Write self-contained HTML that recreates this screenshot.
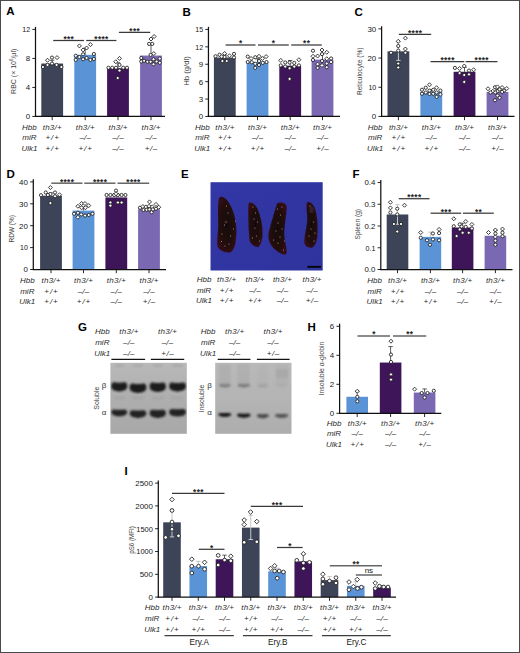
<!DOCTYPE html>
<html lang="en"><head><meta charset="utf-8"><title>Figure</title>
<style>
html,body{margin:0;padding:0;background:#fff}
svg{display:block;font-family:"Liberation Sans","DejaVu Sans",sans-serif}
.d{fill:#fff;stroke:#1a1a1a;stroke-width:0.85}
</style></head><body>
<svg width="520" height="653" viewBox="0 0 520 653">
<defs>
<filter id="blur" x="-10%" y="-10%" width="120%" height="120%"><feGaussianBlur stdDeviation="0.95"/></filter>
<filter id="blur2" x="-10%" y="-10%" width="120%" height="120%"><feGaussianBlur stdDeviation="0.5"/></filter>
<linearGradient id="gelbg1" x1="0" y1="0" x2="0" y2="1"><stop offset="0" stop-color="#b9b9b9"/><stop offset="0.45" stop-color="#afafaf"/><stop offset="1" stop-color="#a8a8a8"/></linearGradient>
<linearGradient id="gelbg2" x1="0" y1="0" x2="0" y2="1"><stop offset="0" stop-color="#b9b9b9"/><stop offset="0.5" stop-color="#b4b4b4"/><stop offset="1" stop-color="#adadad"/></linearGradient>
<clipPath id="clipg1"><rect x="110.4" y="362.8" width="76.4" height="71"/></clipPath>
<clipPath id="clipg2"><rect x="215.2" y="362.8" width="76.3" height="71"/></clipPath>
<radialGradient id="spl" cx="0.5" cy="0.5" r="0.6"><stop offset="0" stop-color="#16060a"/><stop offset="0.6" stop-color="#220a0e"/><stop offset="1" stop-color="#361018"/></radialGradient>
<linearGradient id="blue" x1="0" y1="0" x2="1" y2="1"><stop offset="0" stop-color="#3337a7"/><stop offset="1" stop-color="#2f339d"/></linearGradient>
</defs>
<rect x="0" y="0" width="520" height="653" fill="#fff"/>
<text x="6.30" y="15.40" font-size="11.5" text-anchor="start" fill="#000" font-weight="bold" >A</text>
<rect x="41.30" y="63.53" width="21.80" height="52.92" fill="#3d4457"/>
<rect x="74.30" y="54.83" width="21.80" height="61.62" fill="#5b94d6"/>
<rect x="107.10" y="68.24" width="21.80" height="48.21" fill="#3d1558"/>
<rect x="140.10" y="55.55" width="21.80" height="60.90" fill="#7a69b2"/>
<line x1="52.20" y1="63.53" x2="52.20" y2="60.26" stroke="#333" stroke-width="0.8" />
<line x1="50.00" y1="60.26" x2="54.40" y2="60.26" stroke="#333" stroke-width="0.8" />
<line x1="85.20" y1="54.83" x2="85.20" y2="48.30" stroke="#333" stroke-width="0.8" />
<line x1="83.00" y1="48.30" x2="87.40" y2="48.30" stroke="#333" stroke-width="0.8" />
<line x1="118.00" y1="68.24" x2="118.00" y2="62.80" stroke="#333" stroke-width="0.8" />
<line x1="115.80" y1="62.80" x2="120.20" y2="62.80" stroke="#333" stroke-width="0.8" />
<line x1="151.00" y1="55.55" x2="151.00" y2="44.67" stroke="#333" stroke-width="0.8" />
<line x1="148.80" y1="44.67" x2="153.20" y2="44.67" stroke="#333" stroke-width="0.8" />
<line x1="35.50" y1="26.85" x2="35.50" y2="117.05" stroke="#111" stroke-width="1.25" />
<line x1="34.90" y1="116.45" x2="165.00" y2="116.45" stroke="#111" stroke-width="1.25" />
<line x1="32.30" y1="116.45" x2="35.50" y2="116.45" stroke="#111" stroke-width="0.9" />
<text x="30.10" y="119.30" font-size="8" text-anchor="end" fill="#151515" textLength="4.4" lengthAdjust="spacingAndGlyphs">0</text>
<line x1="32.30" y1="87.45" x2="35.50" y2="87.45" stroke="#111" stroke-width="0.9" />
<text x="30.10" y="90.30" font-size="8" text-anchor="end" fill="#151515" textLength="4.4" lengthAdjust="spacingAndGlyphs">4</text>
<line x1="32.30" y1="58.45" x2="35.50" y2="58.45" stroke="#111" stroke-width="0.9" />
<text x="30.10" y="61.30" font-size="8" text-anchor="end" fill="#151515" textLength="4.4" lengthAdjust="spacingAndGlyphs">8</text>
<line x1="32.30" y1="29.45" x2="35.50" y2="29.45" stroke="#111" stroke-width="0.9" />
<text x="30.10" y="32.30" font-size="8" text-anchor="end" fill="#151515" textLength="7.8" lengthAdjust="spacingAndGlyphs">12</text>
<line x1="52.20" y1="116.45" x2="52.20" y2="120.15" stroke="#111" stroke-width="0.9" />
<line x1="85.20" y1="116.45" x2="85.20" y2="120.15" stroke="#111" stroke-width="0.9" />
<line x1="118.00" y1="116.45" x2="118.00" y2="120.15" stroke="#111" stroke-width="0.9" />
<line x1="151.00" y1="116.45" x2="151.00" y2="120.15" stroke="#111" stroke-width="0.9" />
<text transform="translate(16.00,71.30) rotate(-90)" font-size="8" text-anchor="middle" fill="#3e3e3e" textLength="45.2" lengthAdjust="spacingAndGlyphs">RBC (× 10<tspan dy="-3" font-size="5">6</tspan><tspan dy="3">/µl)</tspan></text>
<circle cx="42.90" cy="67.00" r="1.6" class="d"/>
<circle cx="47.50" cy="64.90" r="1.6" class="d"/>
<path d="M47.50 58.25L49.50 60.25L47.50 62.25L45.50 60.25Z" class="d"/>
<circle cx="52.00" cy="57.60" r="1.6" class="d"/>
<circle cx="52.00" cy="63.60" r="1.6" class="d"/>
<path d="M57.00 55.60L59.00 57.60L57.00 59.60L55.00 57.60Z" class="d"/>
<circle cx="56.60" cy="64.90" r="1.6" class="d"/>
<circle cx="61.40" cy="67.00" r="1.6" class="d"/>
<circle cx="75.75" cy="55.75" r="1.6" class="d"/>
<circle cx="75.75" cy="59.90" r="1.6" class="d"/>
<path d="M79.40 43.90L81.40 45.90L79.40 47.90L77.40 45.90Z" class="d"/>
<circle cx="79.40" cy="57.00" r="1.6" class="d"/>
<path d="M83.10 47.90L85.10 49.90L83.10 51.90L81.10 49.90Z" class="d"/>
<circle cx="83.10" cy="54.25" r="1.6" class="d"/>
<circle cx="83.10" cy="59.25" r="1.6" class="d"/>
<path d="M86.60 46.00L88.60 48.00L86.60 50.00L84.60 48.00Z" class="d"/>
<circle cx="86.60" cy="58.00" r="1.6" class="d"/>
<path d="M90.40 42.60L92.40 44.60L90.40 46.60L88.40 44.60Z" class="d"/>
<circle cx="90.40" cy="59.90" r="1.6" class="d"/>
<circle cx="93.90" cy="54.00" r="1.6" class="d"/>
<circle cx="93.90" cy="59.00" r="1.6" class="d"/>
<path d="M119.50 56.40L121.50 58.40L119.50 60.40L117.50 58.40Z" class="d"/>
<path d="M115.75 59.75L117.75 61.75L115.75 63.75L113.75 61.75Z" class="d"/>
<circle cx="119.50" cy="64.90" r="1.6" class="d"/>
<circle cx="108.50" cy="67.75" r="1.6" class="d"/>
<circle cx="112.25" cy="67.75" r="1.6" class="d"/>
<circle cx="116.00" cy="67.75" r="1.6" class="d"/>
<circle cx="123.25" cy="67.75" r="1.6" class="d"/>
<circle cx="127.00" cy="67.75" r="1.6" class="d"/>
<circle cx="119.50" cy="70.50" r="1.6" class="d"/>
<circle cx="117.70" cy="78.00" r="1.6" class="d"/>
<path d="M154.10 34.50L156.10 36.50L154.10 38.50L152.10 36.50Z" class="d"/>
<path d="M151.00 37.00L153.00 39.00L151.00 41.00L149.00 39.00Z" class="d"/>
<circle cx="149.10" cy="43.90" r="1.6" class="d"/>
<circle cx="152.25" cy="43.90" r="1.6" class="d"/>
<path d="M153.75 51.60L155.75 53.60L153.75 55.60L151.75 53.60Z" class="d"/>
<circle cx="150.60" cy="54.90" r="1.6" class="d"/>
<circle cx="141.25" cy="58.00" r="1.6" class="d"/>
<circle cx="141.25" cy="61.50" r="1.6" class="d"/>
<circle cx="144.10" cy="60.75" r="1.6" class="d"/>
<circle cx="147.50" cy="61.75" r="1.6" class="d"/>
<circle cx="150.60" cy="61.75" r="1.6" class="d"/>
<circle cx="153.50" cy="64.25" r="1.6" class="d"/>
<circle cx="156.60" cy="61.50" r="1.6" class="d"/>
<circle cx="159.75" cy="58.60" r="1.6" class="d"/>
<circle cx="159.75" cy="62.75" r="1.6" class="d"/>
<circle cx="153.50" cy="59.25" r="1.6" class="d"/>
<line x1="53.20" y1="40.50" x2="84.00" y2="40.50" stroke="#3a3a3a" stroke-width="1.25" />
<text x="68.80" y="41.90" font-size="8.2" text-anchor="middle" fill="#222" font-weight="bold" letter-spacing="0.4">***</text>
<line x1="86.20" y1="40.50" x2="116.40" y2="40.50" stroke="#3a3a3a" stroke-width="1.25" />
<text x="101.50" y="41.90" font-size="8.2" text-anchor="middle" fill="#222" font-weight="bold" letter-spacing="0.4">****</text>
<line x1="118.90" y1="32.40" x2="150.20" y2="32.40" stroke="#3a3a3a" stroke-width="1.25" />
<text x="134.75" y="33.80" font-size="8.2" text-anchor="middle" fill="#222" font-weight="bold" letter-spacing="0.4">***</text>
<text x="29.40" y="130.00" font-size="8" text-anchor="middle" fill="#2a2a2a" font-style="italic" >Hbb</text>
<text x="52.32" y="130.00" font-size="8" text-anchor="middle" fill="#2a2a2a" font-style="italic" letter-spacing="0.25">th3/+</text>
<text x="85.32" y="130.00" font-size="8" text-anchor="middle" fill="#2a2a2a" font-style="italic" letter-spacing="0.25">th3/+</text>
<text x="118.12" y="130.00" font-size="8" text-anchor="middle" fill="#2a2a2a" font-style="italic" letter-spacing="0.25">th3/+</text>
<text x="151.12" y="130.00" font-size="8" text-anchor="middle" fill="#2a2a2a" font-style="italic" letter-spacing="0.25">th3/+</text>
<text x="29.40" y="140.45" font-size="8" text-anchor="middle" fill="#2a2a2a" font-style="italic" >miR</text>
<text x="52.70" y="140.45" font-size="8" text-anchor="middle" fill="#2a2a2a" font-style="italic" letter-spacing="1.0">+/+</text>
<text x="85.27" y="140.45" font-size="8" text-anchor="middle" fill="#2a2a2a" font-style="italic" letter-spacing="0.15">–/–</text>
<text x="118.07" y="140.45" font-size="8" text-anchor="middle" fill="#2a2a2a" font-style="italic" letter-spacing="0.15">–/–</text>
<text x="151.07" y="140.45" font-size="8" text-anchor="middle" fill="#2a2a2a" font-style="italic" letter-spacing="0.15">–/–</text>
<text x="29.40" y="150.90" font-size="8" text-anchor="middle" fill="#2a2a2a" font-style="italic" >Ulk1</text>
<text x="52.70" y="150.90" font-size="8" text-anchor="middle" fill="#2a2a2a" font-style="italic" letter-spacing="1.0">+/+</text>
<text x="85.70" y="150.90" font-size="8" text-anchor="middle" fill="#2a2a2a" font-style="italic" letter-spacing="1.0">+/+</text>
<text x="118.07" y="150.90" font-size="8" text-anchor="middle" fill="#2a2a2a" font-style="italic" letter-spacing="0.15">–/–</text>
<text x="151.30" y="150.90" font-size="8" text-anchor="middle" fill="#2a2a2a" font-style="italic" letter-spacing="0.6">+/–</text>
<text x="182.50" y="15.60" font-size="11.5" text-anchor="start" fill="#000" font-weight="bold" >B</text>
<rect x="213.90" y="57.58" width="21.80" height="58.87" fill="#3d4457"/>
<rect x="246.60" y="62.22" width="21.80" height="54.23" fill="#5b94d6"/>
<rect x="279.30" y="65.70" width="21.80" height="50.75" fill="#3d1558"/>
<rect x="311.60" y="59.61" width="21.80" height="56.84" fill="#7a69b2"/>
<line x1="224.80" y1="57.58" x2="224.80" y2="54.97" stroke="#333" stroke-width="0.8" />
<line x1="222.60" y1="54.97" x2="227.00" y2="54.97" stroke="#333" stroke-width="0.8" />
<line x1="257.50" y1="62.22" x2="257.50" y2="58.74" stroke="#333" stroke-width="0.8" />
<line x1="255.30" y1="58.74" x2="259.70" y2="58.74" stroke="#333" stroke-width="0.8" />
<line x1="290.20" y1="65.70" x2="290.20" y2="60.48" stroke="#333" stroke-width="0.8" />
<line x1="288.00" y1="60.48" x2="292.40" y2="60.48" stroke="#333" stroke-width="0.8" />
<line x1="322.50" y1="59.61" x2="322.50" y2="53.81" stroke="#333" stroke-width="0.8" />
<line x1="320.30" y1="53.81" x2="324.70" y2="53.81" stroke="#333" stroke-width="0.8" />
<line x1="208.45" y1="26.85" x2="208.45" y2="117.05" stroke="#111" stroke-width="1.25" />
<line x1="207.85" y1="116.45" x2="340.00" y2="116.45" stroke="#111" stroke-width="1.25" />
<line x1="205.25" y1="116.45" x2="208.45" y2="116.45" stroke="#111" stroke-width="0.9" />
<text x="203.05" y="119.30" font-size="8" text-anchor="end" fill="#151515" textLength="4.4" lengthAdjust="spacingAndGlyphs">0</text>
<line x1="205.25" y1="99.05" x2="208.45" y2="99.05" stroke="#111" stroke-width="0.9" />
<text x="203.05" y="101.90" font-size="8" text-anchor="end" fill="#151515" textLength="4.4" lengthAdjust="spacingAndGlyphs">3</text>
<line x1="205.25" y1="81.65" x2="208.45" y2="81.65" stroke="#111" stroke-width="0.9" />
<text x="203.05" y="84.50" font-size="8" text-anchor="end" fill="#151515" textLength="4.4" lengthAdjust="spacingAndGlyphs">6</text>
<line x1="205.25" y1="64.25" x2="208.45" y2="64.25" stroke="#111" stroke-width="0.9" />
<text x="203.05" y="67.10" font-size="8" text-anchor="end" fill="#151515" textLength="4.4" lengthAdjust="spacingAndGlyphs">9</text>
<line x1="205.25" y1="46.85" x2="208.45" y2="46.85" stroke="#111" stroke-width="0.9" />
<text x="203.05" y="49.70" font-size="8" text-anchor="end" fill="#151515" textLength="7.8" lengthAdjust="spacingAndGlyphs">12</text>
<line x1="205.25" y1="29.45" x2="208.45" y2="29.45" stroke="#111" stroke-width="0.9" />
<text x="203.05" y="32.30" font-size="8" text-anchor="end" fill="#151515" textLength="7.8" lengthAdjust="spacingAndGlyphs">15</text>
<line x1="224.80" y1="116.45" x2="224.80" y2="120.15" stroke="#111" stroke-width="0.9" />
<line x1="257.50" y1="116.45" x2="257.50" y2="120.15" stroke="#111" stroke-width="0.9" />
<line x1="290.20" y1="116.45" x2="290.20" y2="120.15" stroke="#111" stroke-width="0.9" />
<line x1="322.50" y1="116.45" x2="322.50" y2="120.15" stroke="#111" stroke-width="0.9" />
<text transform="translate(189.10,71.00) rotate(-90)" font-size="8" text-anchor="middle" fill="#3e3e3e" textLength="29.5" lengthAdjust="spacingAndGlyphs">Hb (g/dl)</text>
<circle cx="215.50" cy="56.25" r="1.6" class="d"/>
<circle cx="219.50" cy="54.75" r="1.6" class="d"/>
<path d="M221.75 54.60L223.75 56.60L221.75 58.60L219.75 56.60Z" class="d"/>
<path d="M224.60 51.50L226.60 53.50L224.60 55.50L222.60 53.50Z" class="d"/>
<circle cx="224.60" cy="57.00" r="1.6" class="d"/>
<circle cx="222.40" cy="61.00" r="1.6" class="d"/>
<circle cx="226.75" cy="61.00" r="1.6" class="d"/>
<path d="M229.50 53.75L231.50 55.75L229.50 57.75L227.50 55.75Z" class="d"/>
<circle cx="234.00" cy="53.90" r="1.6" class="d"/>
<circle cx="234.00" cy="57.50" r="1.6" class="d"/>
<circle cx="247.75" cy="56.60" r="1.6" class="d"/>
<circle cx="247.75" cy="62.00" r="1.6" class="d"/>
<path d="M251.10 56.50L253.10 58.50L251.10 60.50L249.10 58.50Z" class="d"/>
<circle cx="251.75" cy="62.25" r="1.6" class="d"/>
<circle cx="255.25" cy="57.25" r="1.6" class="d"/>
<circle cx="255.25" cy="63.75" r="1.6" class="d"/>
<circle cx="255.25" cy="67.90" r="1.6" class="d"/>
<path d="M259.00 54.25L261.00 56.25L259.00 58.25L257.00 56.25Z" class="d"/>
<circle cx="259.00" cy="61.00" r="1.6" class="d"/>
<circle cx="259.00" cy="65.00" r="1.6" class="d"/>
<path d="M262.40 56.50L264.40 58.50L262.40 60.50L260.40 58.50Z" class="d"/>
<circle cx="262.75" cy="62.90" r="1.6" class="d"/>
<path d="M266.10 54.60L268.10 56.60L266.10 58.60L264.10 56.60Z" class="d"/>
<circle cx="266.50" cy="62.00" r="1.6" class="d"/>
<path d="M280.75 58.40L282.75 60.40L280.75 62.40L278.75 60.40Z" class="d"/>
<circle cx="280.75" cy="65.40" r="1.6" class="d"/>
<circle cx="285.25" cy="62.50" r="1.6" class="d"/>
<circle cx="285.25" cy="66.60" r="1.6" class="d"/>
<circle cx="289.60" cy="62.50" r="1.6" class="d"/>
<circle cx="289.60" cy="68.25" r="1.6" class="d"/>
<circle cx="294.25" cy="62.90" r="1.6" class="d"/>
<circle cx="294.25" cy="66.60" r="1.6" class="d"/>
<path d="M298.90 57.75L300.90 59.75L298.90 61.75L296.90 59.75Z" class="d"/>
<circle cx="298.90" cy="65.40" r="1.6" class="d"/>
<circle cx="289.60" cy="78.90" r="1.6" class="d"/>
<circle cx="313.00" cy="50.75" r="1.6" class="d"/>
<path d="M313.00 54.25L315.00 56.25L313.00 58.25L311.00 56.25Z" class="d"/>
<circle cx="313.00" cy="60.00" r="1.6" class="d"/>
<path d="M317.60 54.00L319.60 56.00L317.60 58.00L315.60 56.00Z" class="d"/>
<path d="M317.60 62.10L319.60 64.10L317.60 66.10L315.60 64.10Z" class="d"/>
<circle cx="317.60" cy="67.90" r="1.6" class="d"/>
<path d="M322.00 48.00L324.00 50.00L322.00 52.00L320.00 50.00Z" class="d"/>
<circle cx="322.00" cy="54.10" r="1.6" class="d"/>
<circle cx="322.00" cy="61.00" r="1.6" class="d"/>
<path d="M322.00 63.40L324.00 65.40L322.00 67.40L320.00 65.40Z" class="d"/>
<path d="M326.75 50.25L328.75 52.25L326.75 54.25L324.75 52.25Z" class="d"/>
<path d="M326.75 56.75L328.75 58.75L326.75 60.75L324.75 58.75Z" class="d"/>
<circle cx="326.75" cy="63.50" r="1.6" class="d"/>
<circle cx="326.75" cy="67.25" r="1.6" class="d"/>
<circle cx="331.10" cy="58.50" r="1.6" class="d"/>
<path d="M331.10 60.00L333.10 62.00L331.10 64.00L329.10 62.00Z" class="d"/>
<line x1="225.60" y1="45.00" x2="255.50" y2="45.00" stroke="#3a3a3a" stroke-width="1.25" />
<text x="240.75" y="46.40" font-size="8.2" text-anchor="middle" fill="#222" font-weight="bold" letter-spacing="0.4">*</text>
<line x1="258.00" y1="45.00" x2="288.80" y2="45.00" stroke="#3a3a3a" stroke-width="1.25" />
<text x="273.60" y="46.40" font-size="8.2" text-anchor="middle" fill="#222" font-weight="bold" letter-spacing="0.4">*</text>
<line x1="291.20" y1="45.00" x2="321.80" y2="45.00" stroke="#3a3a3a" stroke-width="1.25" />
<text x="306.70" y="46.40" font-size="8.2" text-anchor="middle" fill="#222" font-weight="bold" letter-spacing="0.4">**</text>
<text x="202.30" y="130.00" font-size="8" text-anchor="middle" fill="#2a2a2a" font-style="italic" >Hbb</text>
<text x="224.92" y="130.00" font-size="8" text-anchor="middle" fill="#2a2a2a" font-style="italic" letter-spacing="0.25">th3/+</text>
<text x="257.62" y="130.00" font-size="8" text-anchor="middle" fill="#2a2a2a" font-style="italic" letter-spacing="0.25">th3/+</text>
<text x="290.32" y="130.00" font-size="8" text-anchor="middle" fill="#2a2a2a" font-style="italic" letter-spacing="0.25">th3/+</text>
<text x="322.62" y="130.00" font-size="8" text-anchor="middle" fill="#2a2a2a" font-style="italic" letter-spacing="0.25">th3/+</text>
<text x="202.30" y="140.45" font-size="8" text-anchor="middle" fill="#2a2a2a" font-style="italic" >miR</text>
<text x="225.30" y="140.45" font-size="8" text-anchor="middle" fill="#2a2a2a" font-style="italic" letter-spacing="1.0">+/+</text>
<text x="257.57" y="140.45" font-size="8" text-anchor="middle" fill="#2a2a2a" font-style="italic" letter-spacing="0.15">–/–</text>
<text x="290.27" y="140.45" font-size="8" text-anchor="middle" fill="#2a2a2a" font-style="italic" letter-spacing="0.15">–/–</text>
<text x="322.57" y="140.45" font-size="8" text-anchor="middle" fill="#2a2a2a" font-style="italic" letter-spacing="0.15">–/–</text>
<text x="202.30" y="150.90" font-size="8" text-anchor="middle" fill="#2a2a2a" font-style="italic" >Ulk1</text>
<text x="225.30" y="150.90" font-size="8" text-anchor="middle" fill="#2a2a2a" font-style="italic" letter-spacing="1.0">+/+</text>
<text x="258.00" y="150.90" font-size="8" text-anchor="middle" fill="#2a2a2a" font-style="italic" letter-spacing="1.0">+/+</text>
<text x="290.27" y="150.90" font-size="8" text-anchor="middle" fill="#2a2a2a" font-style="italic" letter-spacing="0.15">–/–</text>
<text x="322.80" y="150.90" font-size="8" text-anchor="middle" fill="#2a2a2a" font-style="italic" letter-spacing="0.6">+/–</text>
<text x="354.50" y="15.60" font-size="11.5" text-anchor="start" fill="#000" font-weight="bold" >C</text>
<rect x="387.50" y="51.33" width="21.80" height="65.12" fill="#3d4457"/>
<rect x="420.40" y="91.92" width="21.80" height="24.53" fill="#5b94d6"/>
<rect x="453.60" y="71.77" width="21.80" height="44.68" fill="#3d1558"/>
<rect x="486.60" y="91.92" width="21.80" height="24.53" fill="#7a69b2"/>
<line x1="398.40" y1="51.33" x2="398.40" y2="41.99" stroke="#bdb5b5" stroke-width="0.8" />
<line x1="396.20" y1="41.99" x2="400.60" y2="41.99" stroke="#bdb5b5" stroke-width="0.8" />
<line x1="398.40" y1="51.33" x2="398.40" y2="60.39" stroke="#e8e8e8" stroke-width="0.8" />
<line x1="396.20" y1="60.39" x2="400.60" y2="60.39" stroke="#e8e8e8" stroke-width="0.8" />
<line x1="431.30" y1="91.92" x2="431.30" y2="89.59" stroke="#333" stroke-width="0.8" />
<line x1="429.10" y1="89.59" x2="433.50" y2="89.59" stroke="#333" stroke-width="0.8" />
<line x1="464.50" y1="71.77" x2="464.50" y2="67.39" stroke="#333" stroke-width="0.8" />
<line x1="462.30" y1="67.39" x2="466.70" y2="67.39" stroke="#333" stroke-width="0.8" />
<line x1="497.50" y1="91.92" x2="497.50" y2="89.59" stroke="#333" stroke-width="0.8" />
<line x1="495.30" y1="89.59" x2="499.70" y2="89.59" stroke="#333" stroke-width="0.8" />
<line x1="381.60" y1="26.25" x2="381.60" y2="117.05" stroke="#111" stroke-width="1.25" />
<line x1="381.00" y1="116.45" x2="514.50" y2="116.45" stroke="#111" stroke-width="1.25" />
<line x1="378.40" y1="116.45" x2="381.60" y2="116.45" stroke="#111" stroke-width="0.9" />
<text x="376.20" y="119.30" font-size="8" text-anchor="end" fill="#151515" textLength="4.4" lengthAdjust="spacingAndGlyphs">0</text>
<line x1="378.40" y1="87.25" x2="381.60" y2="87.25" stroke="#111" stroke-width="0.9" />
<text x="376.20" y="90.10" font-size="8" text-anchor="end" fill="#151515" textLength="7.8" lengthAdjust="spacingAndGlyphs">10</text>
<line x1="378.40" y1="58.05" x2="381.60" y2="58.05" stroke="#111" stroke-width="0.9" />
<text x="376.20" y="60.90" font-size="8" text-anchor="end" fill="#151515" textLength="8.8" lengthAdjust="spacingAndGlyphs">20</text>
<line x1="378.40" y1="28.85" x2="381.60" y2="28.85" stroke="#111" stroke-width="0.9" />
<text x="376.20" y="31.70" font-size="8" text-anchor="end" fill="#151515" textLength="8.8" lengthAdjust="spacingAndGlyphs">30</text>
<line x1="398.40" y1="116.45" x2="398.40" y2="120.15" stroke="#111" stroke-width="0.9" />
<line x1="431.30" y1="116.45" x2="431.30" y2="120.15" stroke="#111" stroke-width="0.9" />
<line x1="464.50" y1="116.45" x2="464.50" y2="120.15" stroke="#111" stroke-width="0.9" />
<line x1="497.50" y1="116.45" x2="497.50" y2="120.15" stroke="#111" stroke-width="0.9" />
<text transform="translate(362.40,71.25) rotate(-90)" font-size="8" text-anchor="middle" fill="#3e3e3e" textLength="47.5" lengthAdjust="spacingAndGlyphs">Reticulocyte (%)</text>
<path d="M405.40 36.10L407.40 38.10L405.40 40.10L403.40 38.10Z" class="d"/>
<path d="M398.25 39.25L400.25 41.25L398.25 43.25L396.25 41.25Z" class="d"/>
<circle cx="398.25" cy="46.00" r="1.6" class="d"/>
<path d="M405.40 47.00L407.40 49.00L405.40 51.00L403.40 49.00Z" class="d"/>
<circle cx="391.00" cy="52.75" r="1.6" class="d"/>
<circle cx="398.25" cy="50.60" r="1.6" class="d"/>
<circle cx="405.40" cy="52.75" r="1.6" class="d"/>
<circle cx="398.25" cy="63.50" r="1.6" class="d"/>
<circle cx="398.25" cy="67.50" r="1.6" class="d"/>
<path d="M429.50 82.75L431.50 84.75L429.50 86.75L427.50 84.75Z" class="d"/>
<circle cx="425.75" cy="87.75" r="1.6" class="d"/>
<path d="M436.60 85.75L438.60 87.75L436.60 89.75L434.60 87.75Z" class="d"/>
<circle cx="422.00" cy="89.75" r="1.6" class="d"/>
<circle cx="429.50" cy="90.60" r="1.6" class="d"/>
<circle cx="440.40" cy="90.60" r="1.6" class="d"/>
<circle cx="425.75" cy="92.50" r="1.6" class="d"/>
<circle cx="422.00" cy="93.75" r="1.6" class="d"/>
<circle cx="429.50" cy="94.00" r="1.6" class="d"/>
<circle cx="433.25" cy="93.75" r="1.6" class="d"/>
<circle cx="436.60" cy="92.50" r="1.6" class="d"/>
<circle cx="440.40" cy="94.40" r="1.6" class="d"/>
<circle cx="436.60" cy="96.90" r="1.6" class="d"/>
<circle cx="433.25" cy="89.80" r="1.6" class="d"/>
<circle cx="454.90" cy="67.90" r="1.6" class="d"/>
<path d="M459.60 66.50L461.60 68.50L459.60 70.50L457.60 68.50Z" class="d"/>
<path d="M464.25 64.00L466.25 66.00L464.25 68.00L462.25 66.00Z" class="d"/>
<circle cx="469.00" cy="70.60" r="1.6" class="d"/>
<path d="M473.60 67.75L475.60 69.75L473.60 71.75L471.60 69.75Z" class="d"/>
<circle cx="459.60" cy="73.10" r="1.6" class="d"/>
<circle cx="464.25" cy="75.00" r="1.6" class="d"/>
<circle cx="469.00" cy="74.40" r="1.6" class="d"/>
<circle cx="464.25" cy="81.90" r="1.6" class="d"/>
<path d="M488.00 86.75L490.00 88.75L488.00 90.75L486.00 88.75Z" class="d"/>
<path d="M492.75 89.25L494.75 91.25L492.75 93.25L490.75 91.25Z" class="d"/>
<circle cx="495.00" cy="87.25" r="1.6" class="d"/>
<path d="M497.50 84.90L499.50 86.90L497.50 88.90L495.50 86.90Z" class="d"/>
<circle cx="497.50" cy="91.25" r="1.6" class="d"/>
<path d="M502.10 85.50L504.10 87.50L502.10 89.50L500.10 87.50Z" class="d"/>
<circle cx="499.60" cy="89.40" r="1.6" class="d"/>
<circle cx="504.00" cy="90.60" r="1.6" class="d"/>
<path d="M506.75 86.50L508.75 88.50L506.75 90.50L504.75 88.50Z" class="d"/>
<circle cx="490.50" cy="92.50" r="1.6" class="d"/>
<circle cx="495.25" cy="92.50" r="1.6" class="d"/>
<circle cx="502.10" cy="91.90" r="1.6" class="d"/>
<circle cx="497.50" cy="95.60" r="1.6" class="d"/>
<circle cx="499.60" cy="97.75" r="1.6" class="d"/>
<circle cx="495.00" cy="100.25" r="1.6" class="d"/>
<line x1="398.80" y1="34.30" x2="431.20" y2="34.30" stroke="#3a3a3a" stroke-width="1.25" />
<text x="415.20" y="35.70" font-size="8.2" text-anchor="middle" fill="#222" font-weight="bold" letter-spacing="0.4">****</text>
<line x1="430.50" y1="61.70" x2="464.30" y2="61.70" stroke="#3a3a3a" stroke-width="1.25" />
<text x="447.60" y="63.10" font-size="8.2" text-anchor="middle" fill="#222" font-weight="bold" letter-spacing="0.4">****</text>
<line x1="465.60" y1="61.70" x2="497.50" y2="61.70" stroke="#3a3a3a" stroke-width="1.25" />
<text x="481.75" y="63.10" font-size="8.2" text-anchor="middle" fill="#222" font-weight="bold" letter-spacing="0.4">****</text>
<text x="375.10" y="130.00" font-size="8" text-anchor="middle" fill="#2a2a2a" font-style="italic" >Hbb</text>
<text x="398.52" y="130.00" font-size="8" text-anchor="middle" fill="#2a2a2a" font-style="italic" letter-spacing="0.25">th3/+</text>
<text x="431.42" y="130.00" font-size="8" text-anchor="middle" fill="#2a2a2a" font-style="italic" letter-spacing="0.25">th3/+</text>
<text x="464.62" y="130.00" font-size="8" text-anchor="middle" fill="#2a2a2a" font-style="italic" letter-spacing="0.25">th3/+</text>
<text x="497.62" y="130.00" font-size="8" text-anchor="middle" fill="#2a2a2a" font-style="italic" letter-spacing="0.25">th3/+</text>
<text x="375.10" y="140.45" font-size="8" text-anchor="middle" fill="#2a2a2a" font-style="italic" >miR</text>
<text x="398.90" y="140.45" font-size="8" text-anchor="middle" fill="#2a2a2a" font-style="italic" letter-spacing="1.0">+/+</text>
<text x="431.37" y="140.45" font-size="8" text-anchor="middle" fill="#2a2a2a" font-style="italic" letter-spacing="0.15">–/–</text>
<text x="464.57" y="140.45" font-size="8" text-anchor="middle" fill="#2a2a2a" font-style="italic" letter-spacing="0.15">–/–</text>
<text x="497.57" y="140.45" font-size="8" text-anchor="middle" fill="#2a2a2a" font-style="italic" letter-spacing="0.15">–/–</text>
<text x="375.10" y="150.90" font-size="8" text-anchor="middle" fill="#2a2a2a" font-style="italic" >Ulk1</text>
<text x="398.90" y="150.90" font-size="8" text-anchor="middle" fill="#2a2a2a" font-style="italic" letter-spacing="1.0">+/+</text>
<text x="431.80" y="150.90" font-size="8" text-anchor="middle" fill="#2a2a2a" font-style="italic" letter-spacing="1.0">+/+</text>
<text x="464.57" y="150.90" font-size="8" text-anchor="middle" fill="#2a2a2a" font-style="italic" letter-spacing="0.15">–/–</text>
<text x="497.80" y="150.90" font-size="8" text-anchor="middle" fill="#2a2a2a" font-style="italic" letter-spacing="0.6">+/–</text>
<text x="6.50" y="177.60" font-size="11.5" text-anchor="start" fill="#000" font-weight="bold" >D</text>
<rect x="40.10" y="195.70" width="21.80" height="73.80" fill="#3d4457"/>
<rect x="72.60" y="210.59" width="21.80" height="58.91" fill="#5b94d6"/>
<rect x="105.40" y="197.45" width="21.80" height="72.05" fill="#3d1558"/>
<rect x="138.10" y="209.28" width="21.80" height="60.22" fill="#7a69b2"/>
<line x1="51.00" y1="195.70" x2="51.00" y2="192.85" stroke="#333" stroke-width="0.8" />
<line x1="48.80" y1="192.85" x2="53.20" y2="192.85" stroke="#333" stroke-width="0.8" />
<line x1="83.50" y1="210.59" x2="83.50" y2="207.09" stroke="#333" stroke-width="0.8" />
<line x1="81.30" y1="207.09" x2="85.70" y2="207.09" stroke="#333" stroke-width="0.8" />
<line x1="116.30" y1="197.45" x2="116.30" y2="194.16" stroke="#333" stroke-width="0.8" />
<line x1="114.10" y1="194.16" x2="118.50" y2="194.16" stroke="#333" stroke-width="0.8" />
<line x1="149.00" y1="209.28" x2="149.00" y2="207.30" stroke="#333" stroke-width="0.8" />
<line x1="146.80" y1="207.30" x2="151.20" y2="207.30" stroke="#333" stroke-width="0.8" />
<line x1="33.30" y1="179.30" x2="33.30" y2="270.10" stroke="#111" stroke-width="1.25" />
<line x1="32.70" y1="269.50" x2="166.00" y2="269.50" stroke="#111" stroke-width="1.25" />
<line x1="30.10" y1="269.50" x2="33.30" y2="269.50" stroke="#111" stroke-width="0.9" />
<text x="27.90" y="272.35" font-size="8" text-anchor="end" fill="#151515" textLength="4.4" lengthAdjust="spacingAndGlyphs">0</text>
<line x1="30.10" y1="247.60" x2="33.30" y2="247.60" stroke="#111" stroke-width="0.9" />
<text x="27.90" y="250.45" font-size="8" text-anchor="end" fill="#151515" textLength="7.8" lengthAdjust="spacingAndGlyphs">10</text>
<line x1="30.10" y1="225.70" x2="33.30" y2="225.70" stroke="#111" stroke-width="0.9" />
<text x="27.90" y="228.55" font-size="8" text-anchor="end" fill="#151515" textLength="8.8" lengthAdjust="spacingAndGlyphs">20</text>
<line x1="30.10" y1="203.80" x2="33.30" y2="203.80" stroke="#111" stroke-width="0.9" />
<text x="27.90" y="206.65" font-size="8" text-anchor="end" fill="#151515" textLength="8.8" lengthAdjust="spacingAndGlyphs">30</text>
<line x1="30.10" y1="181.90" x2="33.30" y2="181.90" stroke="#111" stroke-width="0.9" />
<text x="27.90" y="184.75" font-size="8" text-anchor="end" fill="#151515" textLength="8.8" lengthAdjust="spacingAndGlyphs">40</text>
<line x1="51.00" y1="269.50" x2="51.00" y2="273.20" stroke="#111" stroke-width="0.9" />
<line x1="83.50" y1="269.50" x2="83.50" y2="273.20" stroke="#111" stroke-width="0.9" />
<line x1="116.30" y1="269.50" x2="116.30" y2="273.20" stroke="#111" stroke-width="0.9" />
<line x1="149.00" y1="269.50" x2="149.00" y2="273.20" stroke="#111" stroke-width="0.9" />
<text transform="translate(14.20,228.75) rotate(-90)" font-size="8" text-anchor="middle" fill="#3e3e3e" textLength="27.5" lengthAdjust="spacingAndGlyphs">RDW (%)</text>
<path d="M50.40 185.50L52.40 187.50L50.40 189.50L48.40 187.50Z" class="d"/>
<circle cx="41.00" cy="195.25" r="1.6" class="d"/>
<circle cx="45.75" cy="192.50" r="1.6" class="d"/>
<path d="M50.40 192.00L52.40 194.00L50.40 196.00L48.40 194.00Z" class="d"/>
<circle cx="55.00" cy="192.50" r="1.6" class="d"/>
<path d="M59.50 192.75L61.50 194.75L59.50 196.75L57.50 194.75Z" class="d"/>
<circle cx="55.00" cy="196.25" r="1.6" class="d"/>
<circle cx="50.40" cy="203.10" r="1.6" class="d"/>
<circle cx="47.90" cy="195.00" r="1.6" class="d"/>
<path d="M77.90 204.25L79.90 206.25L77.90 208.25L75.90 206.25Z" class="d"/>
<path d="M81.60 201.50L83.60 203.50L81.60 205.50L79.60 203.50Z" class="d"/>
<path d="M85.00 201.50L87.00 203.50L85.00 205.50L83.00 203.50Z" class="d"/>
<path d="M88.75 203.60L90.75 205.60L88.75 207.60L86.75 205.60Z" class="d"/>
<path d="M81.60 205.75L83.60 207.75L81.60 209.75L79.60 207.75Z" class="d"/>
<path d="M85.40 205.75L87.40 207.75L85.40 209.75L83.40 207.75Z" class="d"/>
<circle cx="74.10" cy="213.75" r="1.6" class="d"/>
<circle cx="77.90" cy="212.75" r="1.6" class="d"/>
<circle cx="81.25" cy="214.40" r="1.6" class="d"/>
<circle cx="85.00" cy="215.60" r="1.6" class="d"/>
<circle cx="88.75" cy="215.00" r="1.6" class="d"/>
<circle cx="92.50" cy="213.75" r="1.6" class="d"/>
<path d="M77.90 215.25L79.90 217.25L77.90 219.25L75.90 217.25Z" class="d"/>
<circle cx="116.00" cy="190.60" r="1.6" class="d"/>
<circle cx="106.60" cy="195.00" r="1.6" class="d"/>
<circle cx="110.40" cy="195.00" r="1.6" class="d"/>
<circle cx="114.10" cy="195.00" r="1.6" class="d"/>
<circle cx="117.90" cy="195.00" r="1.6" class="d"/>
<circle cx="121.60" cy="195.00" r="1.6" class="d"/>
<circle cx="125.40" cy="195.00" r="1.6" class="d"/>
<path d="M116.00 191.75L118.00 193.75L116.00 195.75L114.00 193.75Z" class="d"/>
<circle cx="110.40" cy="202.50" r="1.6" class="d"/>
<circle cx="117.90" cy="202.50" r="1.6" class="d"/>
<circle cx="121.60" cy="202.50" r="1.6" class="d"/>
<circle cx="110.40" cy="205.60" r="1.6" class="d"/>
<path d="M149.50 199.90L151.50 201.90L149.50 203.90L147.50 201.90Z" class="d"/>
<circle cx="140.00" cy="207.75" r="1.6" class="d"/>
<path d="M142.90 204.50L144.90 206.50L142.90 208.50L140.90 206.50Z" class="d"/>
<circle cx="143.50" cy="210.00" r="1.6" class="d"/>
<path d="M146.00 204.90L148.00 206.90L146.00 208.90L144.00 206.90Z" class="d"/>
<circle cx="146.60" cy="209.75" r="1.6" class="d"/>
<path d="M149.10 204.25L151.10 206.25L149.10 208.25L147.10 206.25Z" class="d"/>
<circle cx="149.50" cy="209.40" r="1.6" class="d"/>
<circle cx="151.60" cy="212.25" r="1.6" class="d"/>
<path d="M152.25 204.90L154.25 206.90L152.25 208.90L150.25 206.90Z" class="d"/>
<circle cx="152.90" cy="209.40" r="1.6" class="d"/>
<path d="M156.00 202.40L158.00 204.40L156.00 206.40L154.00 204.40Z" class="d"/>
<circle cx="156.00" cy="208.75" r="1.6" class="d"/>
<path d="M158.75 205.25L160.75 207.25L158.75 209.25L156.75 207.25Z" class="d"/>
<line x1="51.30" y1="183.20" x2="82.50" y2="183.20" stroke="#666" stroke-width="1.5" />
<text x="67.10" y="184.60" font-size="8.2" text-anchor="middle" fill="#222" font-weight="bold" letter-spacing="0.4">****</text>
<line x1="84.30" y1="183.20" x2="115.50" y2="183.20" stroke="#666" stroke-width="1.5" />
<text x="100.10" y="184.60" font-size="8.2" text-anchor="middle" fill="#222" font-weight="bold" letter-spacing="0.4">****</text>
<line x1="117.50" y1="183.20" x2="149.20" y2="183.20" stroke="#666" stroke-width="1.5" />
<text x="133.55" y="184.60" font-size="8.2" text-anchor="middle" fill="#222" font-weight="bold" letter-spacing="0.4">****</text>
<text x="27.30" y="283.20" font-size="8" text-anchor="middle" fill="#2a2a2a" font-style="italic" >Hbb</text>
<text x="51.12" y="283.20" font-size="8" text-anchor="middle" fill="#2a2a2a" font-style="italic" letter-spacing="0.25">th3/+</text>
<text x="83.62" y="283.20" font-size="8" text-anchor="middle" fill="#2a2a2a" font-style="italic" letter-spacing="0.25">th3/+</text>
<text x="116.42" y="283.20" font-size="8" text-anchor="middle" fill="#2a2a2a" font-style="italic" letter-spacing="0.25">th3/+</text>
<text x="149.12" y="283.20" font-size="8" text-anchor="middle" fill="#2a2a2a" font-style="italic" letter-spacing="0.25">th3/+</text>
<text x="27.30" y="293.65" font-size="8" text-anchor="middle" fill="#2a2a2a" font-style="italic" >miR</text>
<text x="51.50" y="293.65" font-size="8" text-anchor="middle" fill="#2a2a2a" font-style="italic" letter-spacing="1.0">+/+</text>
<text x="83.57" y="293.65" font-size="8" text-anchor="middle" fill="#2a2a2a" font-style="italic" letter-spacing="0.15">–/–</text>
<text x="116.37" y="293.65" font-size="8" text-anchor="middle" fill="#2a2a2a" font-style="italic" letter-spacing="0.15">–/–</text>
<text x="149.07" y="293.65" font-size="8" text-anchor="middle" fill="#2a2a2a" font-style="italic" letter-spacing="0.15">–/–</text>
<text x="27.30" y="304.10" font-size="8" text-anchor="middle" fill="#2a2a2a" font-style="italic" >Ulk1</text>
<text x="51.50" y="304.10" font-size="8" text-anchor="middle" fill="#2a2a2a" font-style="italic" letter-spacing="1.0">+/+</text>
<text x="84.00" y="304.10" font-size="8" text-anchor="middle" fill="#2a2a2a" font-style="italic" letter-spacing="1.0">+/+</text>
<text x="116.37" y="304.10" font-size="8" text-anchor="middle" fill="#2a2a2a" font-style="italic" letter-spacing="0.15">–/–</text>
<text x="149.30" y="304.10" font-size="8" text-anchor="middle" fill="#2a2a2a" font-style="italic" letter-spacing="0.6">+/–</text>
<text x="181.00" y="177.60" font-size="11.5" text-anchor="start" fill="#000" font-weight="bold" >E</text>
<rect x="210.5" y="182.2" width="112.2" height="88.3" fill="url(#blue)"/>
<g filter="url(#blur2)">
<path d="M219.2 197.2 C222 195.5,226.5 198,230 204.5 C234 212,236.6 222,236.4 232 C236.2 243,234.6 250,230.6 252.2 C226 253.4,219.6 251.2,217.5 246.6 C216.4 240,218.4 232,218.2 224 C218.2 214,217.4 203,219.2 197.2Z" fill="url(#spl)"/>
<path d="M248.6 203 C251 201.2,255 203.5,257.6 209 C260.6 216,262.8 226,262.6 234 C262.4 240,260.8 245,258.2 247.2 C254.5 247,250.4 244,249.4 240 C248.8 230,247.6 212,248.6 203Z" fill="url(#spl)"/>
<path d="M277 203.4 C280 201.8,285.5 202.4,286.6 206 C287.2 212,284.6 222,284.2 232 C284 240,287.4 248,286.6 253 C285.4 256.4,279.5 253.6,274.5 249 C269.6 244.4,267.8 239,268.6 233 C270.6 224,274.6 212,277 203.4Z" fill="url(#spl)"/>
<path d="M306.8 202.6 C309.5 200.8,313.6 204,315.4 210 C317.4 217,318.2 228,317.4 236 C316.8 242,315 246,312.4 247.4 C309 248.4,305.2 246.6,304.4 243 C303.8 237,306.6 229,307.2 221 C307.6 214,305.8 207,306.8 202.6Z" fill="url(#spl)"/>
<ellipse cx="311.5" cy="210" rx="2.2" ry="3.4" fill="#56504e" opacity="0.32"/>
<ellipse cx="226" cy="222" rx="1.6" ry="1.6" fill="#5a4a48" opacity="0.6"/>
</g>
<circle cx="226.5" cy="206" r="0.55" fill="#cdb89a" opacity="0.85"/>
<circle cx="228" cy="213" r="0.55" fill="#cdb89a" opacity="0.85"/>
<circle cx="224.5" cy="225" r="0.55" fill="#cdb89a" opacity="0.85"/>
<circle cx="230.5" cy="236" r="0.55" fill="#cdb89a" opacity="0.85"/>
<circle cx="221.5" cy="241.5" r="0.55" fill="#cdb89a" opacity="0.85"/>
<circle cx="233.4" cy="229" r="0.55" fill="#cdb89a" opacity="0.85"/>
<circle cx="235.6" cy="221" r="0.55" fill="#cdb89a" opacity="0.85"/>
<circle cx="225" cy="246" r="0.55" fill="#cdb89a" opacity="0.85"/>
<circle cx="229" cy="244" r="0.55" fill="#cdb89a" opacity="0.85"/>
<circle cx="222" cy="234" r="0.55" fill="#cdb89a" opacity="0.85"/>
<circle cx="253" cy="207" r="0.55" fill="#cdb89a" opacity="0.85"/>
<circle cx="255.5" cy="213" r="0.55" fill="#cdb89a" opacity="0.85"/>
<circle cx="257.6" cy="222" r="0.55" fill="#cdb89a" opacity="0.85"/>
<circle cx="255" cy="228" r="0.55" fill="#cdb89a" opacity="0.85"/>
<circle cx="256.4" cy="236" r="0.55" fill="#cdb89a" opacity="0.85"/>
<circle cx="259.4" cy="241" r="0.55" fill="#cdb89a" opacity="0.85"/>
<circle cx="252.4" cy="238" r="0.55" fill="#cdb89a" opacity="0.85"/>
<circle cx="254" cy="219" r="0.55" fill="#cdb89a" opacity="0.85"/>
<circle cx="277.4" cy="209" r="0.55" fill="#cdb89a" opacity="0.85"/>
<circle cx="282" cy="207" r="0.55" fill="#cdb89a" opacity="0.85"/>
<circle cx="280.6" cy="215" r="0.55" fill="#cdb89a" opacity="0.85"/>
<circle cx="278" cy="223" r="0.55" fill="#cdb89a" opacity="0.85"/>
<circle cx="276" cy="231" r="0.55" fill="#cdb89a" opacity="0.85"/>
<circle cx="280" cy="237" r="0.55" fill="#cdb89a" opacity="0.85"/>
<circle cx="278" cy="243" r="0.55" fill="#cdb89a" opacity="0.85"/>
<circle cx="283.4" cy="250" r="0.55" fill="#cdb89a" opacity="0.85"/>
<circle cx="273.6" cy="240" r="0.55" fill="#cdb89a" opacity="0.85"/>
<circle cx="282" cy="229" r="0.55" fill="#cdb89a" opacity="0.85"/>
<circle cx="284.6" cy="241" r="0.55" fill="#cdb89a" opacity="0.85"/>
<circle cx="310" cy="206" r="0.55" fill="#cdb89a" opacity="0.85"/>
<circle cx="313.6" cy="222" r="0.55" fill="#cdb89a" opacity="0.85"/>
<circle cx="309" cy="236" r="0.55" fill="#cdb89a" opacity="0.85"/>
<circle cx="314" cy="241" r="0.55" fill="#cdb89a" opacity="0.85"/>
<circle cx="311" cy="229" r="0.55" fill="#cdb89a" opacity="0.85"/>
<circle cx="315" cy="233" r="0.55" fill="#cdb89a" opacity="0.85"/>
<rect x="307.3" y="265.9" width="13.8" height="1.9" fill="#05050a"/>
<text x="204.00" y="282.40" font-size="8" text-anchor="middle" fill="#2a2a2a" font-style="italic" >Hbb</text>
<text x="226.72" y="282.40" font-size="8" text-anchor="middle" fill="#2a2a2a" font-style="italic" letter-spacing="0.25">th3/+</text>
<text x="255.12" y="282.40" font-size="8" text-anchor="middle" fill="#2a2a2a" font-style="italic" letter-spacing="0.25">th3/+</text>
<text x="282.52" y="282.40" font-size="8" text-anchor="middle" fill="#2a2a2a" font-style="italic" letter-spacing="0.25">th3/+</text>
<text x="312.12" y="282.40" font-size="8" text-anchor="middle" fill="#2a2a2a" font-style="italic" letter-spacing="0.25">th3/+</text>
<text x="204.00" y="292.85" font-size="8" text-anchor="middle" fill="#2a2a2a" font-style="italic" >miR</text>
<text x="227.10" y="292.85" font-size="8" text-anchor="middle" fill="#2a2a2a" font-style="italic" letter-spacing="1.0">+/+</text>
<text x="255.07" y="292.85" font-size="8" text-anchor="middle" fill="#2a2a2a" font-style="italic" letter-spacing="0.15">–/–</text>
<text x="282.47" y="292.85" font-size="8" text-anchor="middle" fill="#2a2a2a" font-style="italic" letter-spacing="0.15">–/–</text>
<text x="312.07" y="292.85" font-size="8" text-anchor="middle" fill="#2a2a2a" font-style="italic" letter-spacing="0.15">–/–</text>
<text x="204.00" y="303.30" font-size="8" text-anchor="middle" fill="#2a2a2a" font-style="italic" >Ulk1</text>
<text x="227.10" y="303.30" font-size="8" text-anchor="middle" fill="#2a2a2a" font-style="italic" letter-spacing="1.0">+/+</text>
<text x="255.50" y="303.30" font-size="8" text-anchor="middle" fill="#2a2a2a" font-style="italic" letter-spacing="1.0">+/+</text>
<text x="282.47" y="303.30" font-size="8" text-anchor="middle" fill="#2a2a2a" font-style="italic" letter-spacing="0.15">–/–</text>
<text x="312.30" y="303.30" font-size="8" text-anchor="middle" fill="#2a2a2a" font-style="italic" letter-spacing="0.6">+/–</text>
<text x="352.50" y="177.60" font-size="11.5" text-anchor="start" fill="#000" font-weight="bold" >F</text>
<rect x="386.70" y="214.47" width="21.60" height="55.03" fill="#3d4457"/>
<rect x="419.60" y="236.88" width="21.60" height="32.62" fill="#5b94d6"/>
<rect x="451.80" y="227.52" width="21.60" height="41.98" fill="#3d1558"/>
<rect x="484.60" y="235.79" width="21.60" height="33.71" fill="#7a69b2"/>
<line x1="397.50" y1="214.47" x2="397.50" y2="204.69" stroke="#bdb5b5" stroke-width="0.8" />
<line x1="395.30" y1="204.69" x2="399.70" y2="204.69" stroke="#bdb5b5" stroke-width="0.8" />
<line x1="397.50" y1="214.47" x2="397.50" y2="224.26" stroke="#e8e8e8" stroke-width="0.8" />
<line x1="395.30" y1="224.26" x2="399.70" y2="224.26" stroke="#e8e8e8" stroke-width="0.8" />
<line x1="430.40" y1="236.88" x2="430.40" y2="232.09" stroke="#bdb5b5" stroke-width="0.8" />
<line x1="428.20" y1="232.09" x2="432.60" y2="232.09" stroke="#bdb5b5" stroke-width="0.8" />
<line x1="462.60" y1="227.52" x2="462.60" y2="223.17" stroke="#333" stroke-width="0.8" />
<line x1="460.40" y1="223.17" x2="464.80" y2="223.17" stroke="#333" stroke-width="0.8" />
<line x1="495.40" y1="235.79" x2="495.40" y2="230.35" stroke="#333" stroke-width="0.8" />
<line x1="493.20" y1="230.35" x2="497.60" y2="230.35" stroke="#333" stroke-width="0.8" />
<line x1="380.80" y1="179.90" x2="380.80" y2="270.10" stroke="#111" stroke-width="1.25" />
<line x1="380.20" y1="269.50" x2="512.50" y2="269.50" stroke="#111" stroke-width="1.25" />
<line x1="377.60" y1="269.50" x2="380.80" y2="269.50" stroke="#111" stroke-width="0.9" />
<text x="375.40" y="272.35" font-size="8" text-anchor="end" fill="#151515" textLength="10.9" lengthAdjust="spacingAndGlyphs">0.0</text>
<line x1="377.60" y1="247.75" x2="380.80" y2="247.75" stroke="#111" stroke-width="0.9" />
<text x="375.40" y="250.60" font-size="8" text-anchor="end" fill="#151515" textLength="9.9" lengthAdjust="spacingAndGlyphs">0.1</text>
<line x1="377.60" y1="226.00" x2="380.80" y2="226.00" stroke="#111" stroke-width="0.9" />
<text x="375.40" y="228.85" font-size="8" text-anchor="end" fill="#151515" textLength="10.9" lengthAdjust="spacingAndGlyphs">0.2</text>
<line x1="377.60" y1="204.25" x2="380.80" y2="204.25" stroke="#111" stroke-width="0.9" />
<text x="375.40" y="207.10" font-size="8" text-anchor="end" fill="#151515" textLength="10.9" lengthAdjust="spacingAndGlyphs">0.3</text>
<line x1="377.60" y1="182.50" x2="380.80" y2="182.50" stroke="#111" stroke-width="0.9" />
<text x="375.40" y="185.35" font-size="8" text-anchor="end" fill="#151515" textLength="10.9" lengthAdjust="spacingAndGlyphs">0.4</text>
<line x1="397.50" y1="269.50" x2="397.50" y2="273.20" stroke="#111" stroke-width="0.9" />
<line x1="430.40" y1="269.50" x2="430.40" y2="273.20" stroke="#111" stroke-width="0.9" />
<line x1="462.60" y1="269.50" x2="462.60" y2="273.20" stroke="#111" stroke-width="0.9" />
<line x1="495.40" y1="269.50" x2="495.40" y2="273.20" stroke="#111" stroke-width="0.9" />
<text transform="translate(359.60,224.20) rotate(-90)" font-size="8" text-anchor="middle" fill="#3e3e3e" textLength="30.4" lengthAdjust="spacingAndGlyphs">Spleen (g)</text>
<path d="M390.40 200.25L392.40 202.25L390.40 204.25L388.40 202.25Z" class="d"/>
<path d="M390.40 205.90L392.40 207.90L390.40 209.90L388.40 207.90Z" class="d"/>
<circle cx="390.40" cy="212.50" r="1.6" class="d"/>
<circle cx="397.25" cy="208.75" r="1.6" class="d"/>
<circle cx="397.25" cy="214.40" r="1.6" class="d"/>
<path d="M404.50 203.25L406.50 205.25L404.50 207.25L402.50 205.25Z" class="d"/>
<circle cx="393.90" cy="224.00" r="1.6" class="d"/>
<circle cx="401.00" cy="224.00" r="1.6" class="d"/>
<circle cx="397.25" cy="231.50" r="1.6" class="d"/>
<path d="M420.75 230.50L422.75 232.50L420.75 234.50L418.75 232.50Z" class="d"/>
<circle cx="420.75" cy="237.75" r="1.6" class="d"/>
<circle cx="427.00" cy="240.25" r="1.6" class="d"/>
<circle cx="430.00" cy="244.75" r="1.6" class="d"/>
<circle cx="432.90" cy="233.50" r="1.6" class="d"/>
<circle cx="432.90" cy="239.40" r="1.6" class="d"/>
<path d="M439.10 227.40L441.10 229.40L439.10 231.40L437.10 229.40Z" class="d"/>
<circle cx="439.10" cy="233.10" r="1.6" class="d"/>
<circle cx="439.10" cy="240.25" r="1.6" class="d"/>
<path d="M453.75 216.75L455.75 218.75L453.75 220.75L451.75 218.75Z" class="d"/>
<circle cx="453.75" cy="226.25" r="1.6" class="d"/>
<path d="M465.75 219.50L467.75 221.50L465.75 223.50L463.75 221.50Z" class="d"/>
<circle cx="459.75" cy="224.40" r="1.6" class="d"/>
<circle cx="461.60" cy="226.50" r="1.6" class="d"/>
<circle cx="465.75" cy="226.90" r="1.6" class="d"/>
<path d="M471.90 222.40L473.90 224.40L471.90 226.40L469.90 224.40Z" class="d"/>
<circle cx="471.90" cy="228.50" r="1.6" class="d"/>
<circle cx="459.75" cy="229.40" r="1.6" class="d"/>
<circle cx="462.60" cy="232.75" r="1.6" class="d"/>
<circle cx="468.75" cy="232.75" r="1.6" class="d"/>
<circle cx="456.60" cy="236.00" r="1.6" class="d"/>
<path d="M488.50 230.50L490.50 232.50L488.50 234.50L486.50 232.50Z" class="d"/>
<path d="M495.40 228.00L497.40 230.00L495.40 232.00L493.40 230.00Z" class="d"/>
<path d="M502.50 227.00L504.50 229.00L502.50 231.00L500.50 229.00Z" class="d"/>
<circle cx="495.40" cy="233.50" r="1.6" class="d"/>
<circle cx="502.50" cy="232.75" r="1.6" class="d"/>
<circle cx="502.50" cy="236.25" r="1.6" class="d"/>
<path d="M495.40 234.90L497.40 236.90L495.40 238.90L493.40 236.90Z" class="d"/>
<circle cx="495.40" cy="240.60" r="1.6" class="d"/>
<circle cx="495.40" cy="244.75" r="1.6" class="d"/>
<line x1="398.80" y1="198.70" x2="429.50" y2="198.70" stroke="#3a3a3a" stroke-width="1.25" />
<text x="414.35" y="200.10" font-size="8.2" text-anchor="middle" fill="#222" font-weight="bold" letter-spacing="0.4">****</text>
<line x1="430.60" y1="213.20" x2="461.20" y2="213.20" stroke="#3a3a3a" stroke-width="1.25" />
<text x="446.10" y="214.60" font-size="8.2" text-anchor="middle" fill="#222" font-weight="bold" letter-spacing="0.4">***</text>
<line x1="463.00" y1="213.20" x2="493.80" y2="213.20" stroke="#3a3a3a" stroke-width="1.25" />
<text x="478.60" y="214.60" font-size="8.2" text-anchor="middle" fill="#222" font-weight="bold" letter-spacing="0.4">**</text>
<text x="374.60" y="283.20" font-size="8" text-anchor="middle" fill="#2a2a2a" font-style="italic" >Hbb</text>
<text x="397.62" y="283.20" font-size="8" text-anchor="middle" fill="#2a2a2a" font-style="italic" letter-spacing="0.25">th3/+</text>
<text x="430.52" y="283.20" font-size="8" text-anchor="middle" fill="#2a2a2a" font-style="italic" letter-spacing="0.25">th3/+</text>
<text x="462.72" y="283.20" font-size="8" text-anchor="middle" fill="#2a2a2a" font-style="italic" letter-spacing="0.25">th3/+</text>
<text x="495.52" y="283.20" font-size="8" text-anchor="middle" fill="#2a2a2a" font-style="italic" letter-spacing="0.25">th3/+</text>
<text x="374.60" y="293.65" font-size="8" text-anchor="middle" fill="#2a2a2a" font-style="italic" >miR</text>
<text x="398.00" y="293.65" font-size="8" text-anchor="middle" fill="#2a2a2a" font-style="italic" letter-spacing="1.0">+/+</text>
<text x="430.47" y="293.65" font-size="8" text-anchor="middle" fill="#2a2a2a" font-style="italic" letter-spacing="0.15">–/–</text>
<text x="462.67" y="293.65" font-size="8" text-anchor="middle" fill="#2a2a2a" font-style="italic" letter-spacing="0.15">–/–</text>
<text x="495.47" y="293.65" font-size="8" text-anchor="middle" fill="#2a2a2a" font-style="italic" letter-spacing="0.15">–/–</text>
<text x="374.60" y="304.10" font-size="8" text-anchor="middle" fill="#2a2a2a" font-style="italic" >Ulk1</text>
<text x="398.00" y="304.10" font-size="8" text-anchor="middle" fill="#2a2a2a" font-style="italic" letter-spacing="1.0">+/+</text>
<text x="430.90" y="304.10" font-size="8" text-anchor="middle" fill="#2a2a2a" font-style="italic" letter-spacing="1.0">+/+</text>
<text x="462.67" y="304.10" font-size="8" text-anchor="middle" fill="#2a2a2a" font-style="italic" letter-spacing="0.15">–/–</text>
<text x="495.70" y="304.10" font-size="8" text-anchor="middle" fill="#2a2a2a" font-style="italic" letter-spacing="0.6">+/–</text>
<text x="78.00" y="331.40" font-size="11.5" text-anchor="start" fill="#000" font-weight="bold" >G</text>
<text x="102.30" y="333.90" font-size="8" text-anchor="middle" fill="#2a2a2a" font-style="italic" >Hbb</text>
<text x="128.92" y="333.90" font-size="8" text-anchor="middle" fill="#2a2a2a" font-style="italic" letter-spacing="0.25">th3/+</text>
<text x="167.62" y="333.90" font-size="8" text-anchor="middle" fill="#2a2a2a" font-style="italic" letter-spacing="0.25">th3/+</text>
<text x="102.30" y="344.70" font-size="8" text-anchor="middle" fill="#2a2a2a" font-style="italic" >miR</text>
<text x="128.87" y="344.70" font-size="8" text-anchor="middle" fill="#2a2a2a" font-style="italic" letter-spacing="0.15">–/–</text>
<text x="167.57" y="344.70" font-size="8" text-anchor="middle" fill="#2a2a2a" font-style="italic" letter-spacing="0.15">–/–</text>
<text x="102.30" y="355.50" font-size="8" text-anchor="middle" fill="#2a2a2a" font-style="italic" >Ulk1</text>
<text x="128.87" y="355.50" font-size="8" text-anchor="middle" fill="#2a2a2a" font-style="italic" letter-spacing="0.15">–/–</text>
<text x="167.80" y="355.50" font-size="8" text-anchor="middle" fill="#2a2a2a" font-style="italic" letter-spacing="0.6">+/–</text>
<text x="208.10" y="333.90" font-size="8" text-anchor="middle" fill="#2a2a2a" font-style="italic" >Hbb</text>
<text x="234.72" y="333.90" font-size="8" text-anchor="middle" fill="#2a2a2a" font-style="italic" letter-spacing="0.25">th3/+</text>
<text x="273.12" y="333.90" font-size="8" text-anchor="middle" fill="#2a2a2a" font-style="italic" letter-spacing="0.25">th3/+</text>
<text x="208.10" y="344.70" font-size="8" text-anchor="middle" fill="#2a2a2a" font-style="italic" >miR</text>
<text x="234.67" y="344.70" font-size="8" text-anchor="middle" fill="#2a2a2a" font-style="italic" letter-spacing="0.15">–/–</text>
<text x="273.07" y="344.70" font-size="8" text-anchor="middle" fill="#2a2a2a" font-style="italic" letter-spacing="0.15">–/–</text>
<text x="208.10" y="355.50" font-size="8" text-anchor="middle" fill="#2a2a2a" font-style="italic" >Ulk1</text>
<text x="234.67" y="355.50" font-size="8" text-anchor="middle" fill="#2a2a2a" font-style="italic" letter-spacing="0.15">–/–</text>
<text x="273.30" y="355.50" font-size="8" text-anchor="middle" fill="#2a2a2a" font-style="italic" letter-spacing="0.6">+/–</text>
<line x1="111.40" y1="359.40" x2="145.10" y2="359.40" stroke="#111" stroke-width="1.4" />
<line x1="150.80" y1="359.40" x2="184.20" y2="359.40" stroke="#111" stroke-width="1.4" />
<line x1="217.70" y1="359.40" x2="250.40" y2="359.40" stroke="#111" stroke-width="1.4" />
<line x1="256.90" y1="359.40" x2="289.60" y2="359.40" stroke="#111" stroke-width="1.4" />
<rect x="110.4" y="362.8" width="76.4" height="71" fill="url(#gelbg1)"/>
<rect x="215.2" y="362.8" width="76.3" height="71" fill="url(#gelbg2)"/>
<g clip-path="url(#clipg1)"><g filter="url(#blur)">
<rect x="114" y="396.5" width="11" height="3" fill="#8e8e8e" opacity="0.28"/>
<rect x="115" y="364.5" width="9" height="2.5" fill="#9a9a9a" opacity="0.5"/>
<rect x="132" y="396.5" width="12" height="3" fill="#8e8e8e" opacity="0.28"/>
<rect x="133" y="364.5" width="10" height="2.5" fill="#9a9a9a" opacity="0.5"/>
<rect x="152" y="396.5" width="11.5" height="3" fill="#8e8e8e" opacity="0.28"/>
<rect x="153" y="364.5" width="9.5" height="2.5" fill="#9a9a9a" opacity="0.5"/>
<rect x="171.5" y="396.5" width="12.0" height="3" fill="#8e8e8e" opacity="0.28"/>
<rect x="172.5" y="364.5" width="10.0" height="2.5" fill="#9a9a9a" opacity="0.5"/>
<path d="M111.3 385.5 Q111.3 382.3,114.5 382.3 Q119.2 383.3,124.0 382.3 Q127.2 382.3,127.2 385.5 L127.2 387.6 Q126.2 391.1,119.2 391.6 Q112.3 391.1,111.3 387.6Z" fill="#1c1c1c" opacity="1"/>
<path d="M111.3 412.6 Q111.3 409.4,114.5 409.4 Q119.2 410.0,124.0 409.4 Q127.2 409.4,127.2 412.6 L127.2 412.7 Q126.2 415.9,119.2 416.4 Q112.3 415.9,111.3 412.7Z" fill="#202020" opacity="1"/>
<path d="M129.7 386.6 Q129.7 383.4,132.9 383.4 Q138.0 384.4,143.1 383.4 Q146.3 383.4,146.3 386.6 L146.3 388.9 Q145.3 392.4,138.0 392.9 Q130.7 392.4,129.7 388.9Z" fill="#1c1c1c" opacity="1"/>
<path d="M129.7 413.4 Q129.7 410.2,132.9 410.2 Q138.0 410.8,143.1 410.2 Q146.3 410.2,146.3 413.4 L146.3 414.3 Q145.3 417.5,138.0 418.0 Q130.7 417.5,129.7 414.3Z" fill="#202020" opacity="1"/>
<path d="M149.7 385.8 Q149.7 382.6,152.9 382.6 Q157.8 383.6,162.6 382.6 Q165.8 382.6,165.8 385.8 L165.8 388.1 Q164.8 391.6,157.8 392.1 Q150.7 391.6,149.7 388.1Z" fill="#1c1c1c" opacity="1"/>
<path d="M149.7 412.9 Q149.7 409.7,152.9 409.7 Q157.8 410.3,162.6 409.7 Q165.8 409.7,165.8 412.9 L165.8 414.3 Q164.8 417.5,157.8 418.0 Q150.7 417.5,149.7 414.3Z" fill="#202020" opacity="1"/>
<path d="M169.2 385.8 Q169.2 382.6,172.4 382.6 Q177.6 383.6,182.7 382.6 Q185.9 382.6,185.9 385.8 L185.9 387.6 Q184.9 391.1,177.6 391.6 Q170.2 391.1,169.2 387.6Z" fill="#1c1c1c" opacity="1"/>
<path d="M169.2 412.2 Q169.2 409.0,172.4 409.0 Q177.6 409.6,182.7 409.0 Q185.9 409.0,185.9 412.2 L185.9 412.9 Q184.9 416.1,177.6 416.6 Q170.2 416.1,169.2 412.9Z" fill="#202020" opacity="1"/>
</g></g>
<g clip-path="url(#clipg2)"><g filter="url(#blur)">
<rect x="219" y="364" width="11.5" height="21" fill="#999" opacity="0.28"/>
<rect x="237.5" y="364" width="12.0" height="21" fill="#999" opacity="0.28"/>
<rect x="257.5" y="364" width="10.5" height="21" fill="#999" opacity="0.12"/>
<rect x="275.5" y="364" width="12.5" height="21" fill="#999" opacity="0.15"/>
<rect x="276" y="369" width="12.5" height="9" fill="#909090" opacity="0.28"/>
<path d="M218.8 385.8 Q218.8 383.8,220.8 383.8 Q224.8 384.1,228.8 383.8 Q230.8 383.8,230.8 385.8 L230.8 385.6 Q229.8 387.3,224.8 387.8 Q219.8 387.3,218.8 385.6Z" fill="#5a5a5a" opacity="0.55"/>
<path d="M218.3 415.0 Q218.3 412.9,220.4 412.9 Q224.8 413.2,229.2 412.9 Q231.3 412.9,231.3 415.0 L231.3 414.8 Q230.3 416.6,224.8 417.1 Q219.3 416.6,218.3 414.8Z" fill="#161616" opacity="1"/>
<path d="M237.5 385.8 Q237.5 383.8,239.5 383.8 Q243.8 384.1,248.1 383.8 Q250.1 383.8,250.1 385.8 L250.1 385.6 Q249.1 387.3,243.8 387.8 Q238.5 387.3,237.5 385.6Z" fill="#5a5a5a" opacity="0.6"/>
<path d="M237.0 415.6 Q237.0 413.5,239.1 413.5 Q243.8 413.8,248.5 413.5 Q250.6 413.5,250.6 415.6 L250.6 415.4 Q249.6 417.2,243.8 417.7 Q238.0 417.2,237.0 415.4Z" fill="#161616" opacity="1"/>
<path d="M257.3 385.8 Q257.3 383.8,259.3 383.8 Q262.8 384.1,266.3 383.8 Q268.3 383.8,268.3 385.8 L268.3 385.6 Q267.3 387.3,262.8 387.8 Q258.3 387.3,257.3 385.6Z" fill="#5a5a5a" opacity="0.2"/>
<path d="M256.8 416.2 Q256.8 414.1,258.9 414.1 Q262.8 414.4,266.7 414.1 Q268.8 414.1,268.8 416.2 L268.8 415.9 Q267.8 417.8,262.8 418.3 Q257.8 417.8,256.8 415.9Z" fill="#161616" opacity="0.66"/>
<path d="M275.5 385.8 Q275.5 383.8,277.5 383.8 Q281.6 384.1,285.7 383.8 Q287.7 383.8,287.7 385.8 L287.7 385.6 Q286.7 387.3,281.6 387.8 Q276.5 387.3,275.5 385.6Z" fill="#5a5a5a" opacity="0.08"/>
<path d="M275.0 416.0 Q275.0 413.9,277.1 413.9 Q281.6 414.2,286.1 413.9 Q288.2 413.9,288.2 416.0 L288.2 415.8 Q287.2 417.6,281.6 418.1 Q276.0 417.6,275.0 415.8Z" fill="#161616" opacity="0.6"/>
</g></g>
<text transform="translate(99.1,398.2) rotate(-90)" font-size="8" text-anchor="middle" fill="#444" textLength="23" lengthAdjust="spacingAndGlyphs">Soluble</text>
<text transform="translate(204.3,398.5) rotate(-90)" font-size="8" text-anchor="middle" fill="#444" textLength="27.5" lengthAdjust="spacingAndGlyphs">Insoluble</text>
<text x="104.00" y="387.60" font-size="8" text-anchor="middle" fill="#333" >β</text>
<text x="104.00" y="415.20" font-size="8" text-anchor="middle" fill="#333" >α</text>
<text x="209.50" y="387.60" font-size="8" text-anchor="middle" fill="#333" >β</text>
<text x="209.50" y="415.20" font-size="8" text-anchor="middle" fill="#333" >α</text>
<text x="307.50" y="331.00" font-size="11.5" text-anchor="start" fill="#000" font-weight="bold" >H</text>
<rect x="346.40" y="396.77" width="21.60" height="16.53" fill="#5b94d6"/>
<rect x="379.80" y="362.55" width="21.60" height="50.75" fill="#3d1558"/>
<rect x="413.80" y="392.56" width="21.60" height="20.74" fill="#7a69b2"/>
<line x1="357.20" y1="396.77" x2="357.20" y2="391.70" stroke="#333" stroke-width="0.8" />
<line x1="355.00" y1="391.70" x2="359.40" y2="391.70" stroke="#333" stroke-width="0.8" />
<line x1="390.60" y1="362.55" x2="390.60" y2="346.60" stroke="#333" stroke-width="0.8" />
<line x1="388.40" y1="346.60" x2="392.80" y2="346.60" stroke="#333" stroke-width="0.8" />
<line x1="424.60" y1="392.56" x2="424.60" y2="388.94" stroke="#333" stroke-width="0.8" />
<line x1="422.40" y1="388.94" x2="426.80" y2="388.94" stroke="#333" stroke-width="0.8" />
<line x1="339.60" y1="323.70" x2="339.60" y2="413.90" stroke="#111" stroke-width="1.25" />
<line x1="339.00" y1="413.30" x2="441.30" y2="413.30" stroke="#111" stroke-width="1.25" />
<line x1="336.40" y1="413.30" x2="339.60" y2="413.30" stroke="#111" stroke-width="0.9" />
<text x="334.20" y="416.15" font-size="8" text-anchor="end" fill="#151515" textLength="4.4" lengthAdjust="spacingAndGlyphs">0</text>
<line x1="336.40" y1="384.30" x2="339.60" y2="384.30" stroke="#111" stroke-width="0.9" />
<text x="334.20" y="387.15" font-size="8" text-anchor="end" fill="#151515" textLength="4.4" lengthAdjust="spacingAndGlyphs">2</text>
<line x1="336.40" y1="355.30" x2="339.60" y2="355.30" stroke="#111" stroke-width="0.9" />
<text x="334.20" y="358.15" font-size="8" text-anchor="end" fill="#151515" textLength="4.4" lengthAdjust="spacingAndGlyphs">4</text>
<line x1="336.40" y1="326.30" x2="339.60" y2="326.30" stroke="#111" stroke-width="0.9" />
<text x="334.20" y="329.15" font-size="8" text-anchor="end" fill="#151515" textLength="4.4" lengthAdjust="spacingAndGlyphs">6</text>
<line x1="357.20" y1="413.30" x2="357.20" y2="417.00" stroke="#111" stroke-width="0.9" />
<line x1="390.60" y1="413.30" x2="390.60" y2="417.00" stroke="#111" stroke-width="0.9" />
<line x1="424.60" y1="413.30" x2="424.60" y2="417.00" stroke="#111" stroke-width="0.9" />
<text transform="translate(323.90,368.60) rotate(-90)" font-size="8" text-anchor="middle" fill="#3e3e3e" textLength="53.8" lengthAdjust="spacingAndGlyphs">Insoluble α-globin</text>
<path d="M357.30 389.20L359.30 391.20L357.30 393.20L355.30 391.20Z" class="d"/>
<circle cx="357.30" cy="396.90" r="1.6" class="d"/>
<circle cx="357.30" cy="401.30" r="1.6" class="d"/>
<path d="M391.00 339.20L393.00 341.20L391.00 343.20L389.00 341.20Z" class="d"/>
<circle cx="391.00" cy="354.60" r="1.6" class="d"/>
<circle cx="391.00" cy="362.00" r="1.6" class="d"/>
<circle cx="391.00" cy="374.40" r="1.6" class="d"/>
<circle cx="391.00" cy="379.60" r="1.6" class="d"/>
<path d="M414.60 387.20L416.60 389.20L414.60 391.20L412.60 389.20Z" class="d"/>
<circle cx="433.80" cy="390.80" r="1.6" class="d"/>
<circle cx="421.70" cy="393.00" r="1.6" class="d"/>
<circle cx="427.50" cy="393.00" r="1.6" class="d"/>
<circle cx="424.60" cy="397.50" r="1.6" class="d"/>
<line x1="357.50" y1="336.00" x2="390.00" y2="336.00" stroke="#666" stroke-width="1.5" />
<text x="373.95" y="337.40" font-size="8.2" text-anchor="middle" fill="#222" font-weight="bold" letter-spacing="0.4">*</text>
<line x1="393.00" y1="336.00" x2="426.20" y2="336.00" stroke="#666" stroke-width="1.5" />
<text x="409.80" y="337.40" font-size="8.2" text-anchor="middle" fill="#222" font-weight="bold" letter-spacing="0.4">**</text>
<text x="334.00" y="425.80" font-size="8" text-anchor="middle" fill="#2a2a2a" font-style="italic" >Hbb</text>
<text x="357.32" y="425.80" font-size="8" text-anchor="middle" fill="#2a2a2a" font-style="italic" letter-spacing="0.25">th3/+</text>
<text x="390.72" y="425.80" font-size="8" text-anchor="middle" fill="#2a2a2a" font-style="italic" letter-spacing="0.25">th3/+</text>
<text x="424.72" y="425.80" font-size="8" text-anchor="middle" fill="#2a2a2a" font-style="italic" letter-spacing="0.25">th3/+</text>
<text x="334.00" y="436.40" font-size="8" text-anchor="middle" fill="#2a2a2a" font-style="italic" >miR</text>
<text x="357.27" y="436.40" font-size="8" text-anchor="middle" fill="#2a2a2a" font-style="italic" letter-spacing="0.15">–/–</text>
<text x="390.67" y="436.40" font-size="8" text-anchor="middle" fill="#2a2a2a" font-style="italic" letter-spacing="0.15">–/–</text>
<text x="424.67" y="436.40" font-size="8" text-anchor="middle" fill="#2a2a2a" font-style="italic" letter-spacing="0.15">–/–</text>
<text x="334.00" y="447.00" font-size="8" text-anchor="middle" fill="#2a2a2a" font-style="italic" >Ulk1</text>
<text x="357.70" y="447.00" font-size="8" text-anchor="middle" fill="#2a2a2a" font-style="italic" letter-spacing="1.0">+/+</text>
<text x="390.67" y="447.00" font-size="8" text-anchor="middle" fill="#2a2a2a" font-style="italic" letter-spacing="0.15">–/–</text>
<text x="424.90" y="447.00" font-size="8" text-anchor="middle" fill="#2a2a2a" font-style="italic" letter-spacing="0.6">+/–</text>
<text x="124.50" y="474.60" font-size="11.5" text-anchor="start" fill="#000" font-weight="bold" >I</text>
<rect x="163.20" y="522.32" width="17.60" height="74.78" fill="#3d4457"/>
<rect x="189.45" y="566.09" width="17.60" height="31.01" fill="#5b94d6"/>
<rect x="215.70" y="559.25" width="17.60" height="37.85" fill="#3d1558"/>
<rect x="241.95" y="527.61" width="17.60" height="69.49" fill="#3d4457"/>
<rect x="268.20" y="571.34" width="17.60" height="25.76" fill="#5b94d6"/>
<rect x="294.45" y="561.35" width="17.60" height="35.75" fill="#3d1558"/>
<rect x="320.70" y="580.09" width="17.60" height="17.01" fill="#3d4457"/>
<rect x="346.95" y="585.84" width="17.60" height="11.26" fill="#5b94d6"/>
<rect x="373.20" y="587.62" width="17.60" height="9.48" fill="#3d1558"/>
<line x1="172.00" y1="522.32" x2="172.00" y2="509.09" stroke="#bdb5b5" stroke-width="0.8" />
<line x1="169.80" y1="509.09" x2="174.20" y2="509.09" stroke="#bdb5b5" stroke-width="0.8" />
<line x1="172.00" y1="522.32" x2="172.00" y2="536.91" stroke="#e8e8e8" stroke-width="0.8" />
<line x1="169.80" y1="536.91" x2="174.20" y2="536.91" stroke="#e8e8e8" stroke-width="0.8" />
<line x1="198.25" y1="566.09" x2="198.25" y2="561.30" stroke="#bdb5b5" stroke-width="0.8" />
<line x1="196.05" y1="561.30" x2="200.45" y2="561.30" stroke="#bdb5b5" stroke-width="0.8" />
<line x1="224.50" y1="559.25" x2="224.50" y2="555.15" stroke="#333" stroke-width="0.8" />
<line x1="222.30" y1="555.15" x2="226.70" y2="555.15" stroke="#333" stroke-width="0.8" />
<line x1="250.75" y1="527.61" x2="250.75" y2="515.29" stroke="#bdb5b5" stroke-width="0.8" />
<line x1="248.55" y1="515.29" x2="252.95" y2="515.29" stroke="#bdb5b5" stroke-width="0.8" />
<line x1="250.75" y1="527.61" x2="250.75" y2="539.46" stroke="#e8e8e8" stroke-width="0.8" />
<line x1="248.55" y1="539.46" x2="252.95" y2="539.46" stroke="#e8e8e8" stroke-width="0.8" />
<line x1="277.00" y1="571.34" x2="277.00" y2="568.14" stroke="#bdb5b5" stroke-width="0.8" />
<line x1="274.80" y1="568.14" x2="279.20" y2="568.14" stroke="#bdb5b5" stroke-width="0.8" />
<line x1="303.25" y1="561.35" x2="303.25" y2="554.05" stroke="#333" stroke-width="0.8" />
<line x1="301.05" y1="554.05" x2="305.45" y2="554.05" stroke="#333" stroke-width="0.8" />
<line x1="329.50" y1="580.09" x2="329.50" y2="576.44" stroke="#bdb5b5" stroke-width="0.8" />
<line x1="327.30" y1="576.44" x2="331.70" y2="576.44" stroke="#bdb5b5" stroke-width="0.8" />
<line x1="355.75" y1="585.84" x2="355.75" y2="581.73" stroke="#bdb5b5" stroke-width="0.8" />
<line x1="353.55" y1="581.73" x2="357.95" y2="581.73" stroke="#bdb5b5" stroke-width="0.8" />
<line x1="382.00" y1="587.62" x2="382.00" y2="585.79" stroke="#333" stroke-width="0.8" />
<line x1="379.80" y1="585.79" x2="384.20" y2="585.79" stroke="#333" stroke-width="0.8" />
<line x1="158.30" y1="480.50" x2="158.30" y2="597.70" stroke="#111" stroke-width="1.25" />
<line x1="157.70" y1="597.10" x2="396.00" y2="597.10" stroke="#111" stroke-width="1.25" />
<line x1="155.10" y1="597.10" x2="158.30" y2="597.10" stroke="#111" stroke-width="0.9" />
<text x="152.90" y="599.95" font-size="8" text-anchor="end" fill="#151515" textLength="4.4" lengthAdjust="spacingAndGlyphs">0</text>
<line x1="155.10" y1="574.30" x2="158.30" y2="574.30" stroke="#111" stroke-width="0.9" />
<text x="152.90" y="577.15" font-size="8" text-anchor="end" fill="#151515" textLength="13.2" lengthAdjust="spacingAndGlyphs">500</text>
<line x1="155.10" y1="551.50" x2="158.30" y2="551.50" stroke="#111" stroke-width="0.9" />
<text x="152.90" y="554.35" font-size="8" text-anchor="end" fill="#151515" textLength="16.6" lengthAdjust="spacingAndGlyphs">1000</text>
<line x1="155.10" y1="528.70" x2="158.30" y2="528.70" stroke="#111" stroke-width="0.9" />
<text x="152.90" y="531.55" font-size="8" text-anchor="end" fill="#151515" textLength="16.6" lengthAdjust="spacingAndGlyphs">1500</text>
<line x1="155.10" y1="505.90" x2="158.30" y2="505.90" stroke="#111" stroke-width="0.9" />
<text x="152.90" y="508.75" font-size="8" text-anchor="end" fill="#151515" textLength="17.6" lengthAdjust="spacingAndGlyphs">2000</text>
<line x1="155.10" y1="483.10" x2="158.30" y2="483.10" stroke="#111" stroke-width="0.9" />
<text x="152.90" y="485.95" font-size="8" text-anchor="end" fill="#151515" textLength="17.6" lengthAdjust="spacingAndGlyphs">2500</text>
<line x1="172.00" y1="597.10" x2="172.00" y2="600.80" stroke="#111" stroke-width="0.9" />
<line x1="198.25" y1="597.10" x2="198.25" y2="600.80" stroke="#111" stroke-width="0.9" />
<line x1="224.50" y1="597.10" x2="224.50" y2="600.80" stroke="#111" stroke-width="0.9" />
<line x1="250.75" y1="597.10" x2="250.75" y2="600.80" stroke="#111" stroke-width="0.9" />
<line x1="277.00" y1="597.10" x2="277.00" y2="600.80" stroke="#111" stroke-width="0.9" />
<line x1="303.25" y1="597.10" x2="303.25" y2="600.80" stroke="#111" stroke-width="0.9" />
<line x1="329.50" y1="597.10" x2="329.50" y2="600.80" stroke="#111" stroke-width="0.9" />
<line x1="355.75" y1="597.10" x2="355.75" y2="600.80" stroke="#111" stroke-width="0.9" />
<line x1="382.00" y1="597.10" x2="382.00" y2="600.80" stroke="#111" stroke-width="0.9" />
<text transform="translate(133.70,540.00) rotate(-90)" font-size="8" text-anchor="middle" fill="#3e3e3e" textLength="27.5" lengthAdjust="spacingAndGlyphs">pS6 (MFI)</text>
<path d="M172.00 497.19L174.31 499.50L172.00 501.81L169.69 499.50Z" class="d"/>
<circle cx="172.00" cy="510.50" r="1.85" class="d"/>
<circle cx="172.00" cy="522.00" r="1.85" class="d"/>
<circle cx="172.00" cy="529.20" r="1.85" class="d"/>
<circle cx="165.70" cy="537.40" r="1.85" class="d"/>
<circle cx="178.50" cy="535.80" r="1.85" class="d"/>
<path d="M191.80 556.89L194.11 559.20L191.80 561.51L189.49 559.20Z" class="d"/>
<path d="M204.60 559.99L206.91 562.30L204.60 564.61L202.29 562.30Z" class="d"/>
<circle cx="191.80" cy="566.20" r="1.85" class="d"/>
<circle cx="198.50" cy="566.20" r="1.85" class="d"/>
<circle cx="204.60" cy="569.20" r="1.85" class="d"/>
<circle cx="191.80" cy="573.00" r="1.85" class="d"/>
<circle cx="218.20" cy="555.40" r="1.85" class="d"/>
<path d="M230.80 553.89L233.11 556.20L230.80 558.51L228.49 556.20Z" class="d"/>
<circle cx="224.60" cy="560.00" r="1.85" class="d"/>
<circle cx="230.80" cy="560.80" r="1.85" class="d"/>
<circle cx="218.20" cy="565.00" r="1.85" class="d"/>
<path d="M250.60 509.69L252.91 512.00L250.60 514.31L248.29 512.00Z" class="d"/>
<path d="M244.20 517.69L246.51 520.00L244.20 522.31L241.89 520.00Z" class="d"/>
<path d="M244.20 522.29L246.51 524.60L244.20 526.91L241.89 524.60Z" class="d"/>
<path d="M256.80 519.19L259.11 521.50L256.80 523.81L254.49 521.50Z" class="d"/>
<circle cx="244.20" cy="542.30" r="1.85" class="d"/>
<circle cx="256.80" cy="541.80" r="1.85" class="d"/>
<path d="M274.60 563.49L276.91 565.80L274.60 568.11L272.29 565.80Z" class="d"/>
<path d="M270.60 566.19L272.91 568.50L270.60 570.81L268.29 568.50Z" class="d"/>
<circle cx="274.60" cy="571.00" r="1.85" class="d"/>
<circle cx="279.20" cy="571.00" r="1.85" class="d"/>
<circle cx="283.40" cy="572.00" r="1.85" class="d"/>
<circle cx="277.20" cy="578.20" r="1.85" class="d"/>
<path d="M303.40 551.49L305.71 553.80L303.40 556.11L301.09 553.80Z" class="d"/>
<circle cx="296.80" cy="560.30" r="1.85" class="d"/>
<circle cx="303.40" cy="563.00" r="1.85" class="d"/>
<circle cx="309.50" cy="562.30" r="1.85" class="d"/>
<circle cx="303.40" cy="568.50" r="1.85" class="d"/>
<path d="M322.90 571.89L325.21 574.20L322.90 576.51L320.59 574.20Z" class="d"/>
<circle cx="322.90" cy="578.90" r="1.85" class="d"/>
<circle cx="336.00" cy="577.70" r="1.85" class="d"/>
<circle cx="329.50" cy="581.00" r="1.85" class="d"/>
<circle cx="322.90" cy="584.20" r="1.85" class="d"/>
<circle cx="336.00" cy="583.00" r="1.85" class="d"/>
<path d="M357.20 577.19L359.51 579.50L357.20 581.81L354.89 579.50Z" class="d"/>
<path d="M349.00 579.69L351.31 582.00L349.00 584.31L346.69 582.00Z" class="d"/>
<path d="M353.40 584.29L355.71 586.60L353.40 588.91L351.09 586.60Z" class="d"/>
<circle cx="361.40" cy="587.20" r="1.85" class="d"/>
<circle cx="357.50" cy="588.50" r="1.85" class="d"/>
<circle cx="349.00" cy="589.70" r="1.85" class="d"/>
<path d="M375.20 580.69L377.51 583.00L375.20 585.31L372.89 583.00Z" class="d"/>
<circle cx="379.40" cy="586.20" r="1.85" class="d"/>
<circle cx="383.70" cy="587.00" r="1.85" class="d"/>
<circle cx="388.00" cy="587.00" r="1.85" class="d"/>
<circle cx="375.20" cy="588.50" r="1.85" class="d"/>
<line x1="172.00" y1="493.30" x2="224.50" y2="493.30" stroke="#3a3a3a" stroke-width="1.25" />
<text x="198.45" y="494.70" font-size="8.2" text-anchor="middle" fill="#222" font-weight="bold" letter-spacing="0.4">***</text>
<line x1="198.80" y1="549.30" x2="224.50" y2="549.30" stroke="#3a3a3a" stroke-width="1.25" />
<text x="211.85" y="550.70" font-size="8.2" text-anchor="middle" fill="#222" font-weight="bold" letter-spacing="0.4">*</text>
<line x1="250.80" y1="506.30" x2="303.00" y2="506.30" stroke="#3a3a3a" stroke-width="1.25" />
<text x="277.10" y="507.70" font-size="8.2" text-anchor="middle" fill="#222" font-weight="bold" letter-spacing="0.4">***</text>
<line x1="277.00" y1="547.50" x2="302.60" y2="547.50" stroke="#3a3a3a" stroke-width="1.25" />
<text x="290.00" y="548.90" font-size="8.2" text-anchor="middle" fill="#222" font-weight="bold" letter-spacing="0.4">*</text>
<line x1="329.80" y1="565.80" x2="382.00" y2="565.80" stroke="#666" stroke-width="1.5" />
<text x="356.10" y="567.20" font-size="8.2" text-anchor="middle" fill="#222" font-weight="bold" letter-spacing="0.4">**</text>
<line x1="355.80" y1="575.00" x2="382.00" y2="575.00" stroke="#666" stroke-width="1.5" />
<text x="368.90" y="572.80" font-size="8" text-anchor="middle" fill="#151515" >ns</text>
<text x="152.20" y="610.30" font-size="8" text-anchor="middle" fill="#2a2a2a" font-style="italic" >Hbb</text>
<text x="172.12" y="610.30" font-size="8" text-anchor="middle" fill="#2a2a2a" font-style="italic" letter-spacing="0.25">th3/+</text>
<text x="198.37" y="610.30" font-size="8" text-anchor="middle" fill="#2a2a2a" font-style="italic" letter-spacing="0.25">th3/+</text>
<text x="224.62" y="610.30" font-size="8" text-anchor="middle" fill="#2a2a2a" font-style="italic" letter-spacing="0.25">th3/+</text>
<text x="250.87" y="610.30" font-size="8" text-anchor="middle" fill="#2a2a2a" font-style="italic" letter-spacing="0.25">th3/+</text>
<text x="277.12" y="610.30" font-size="8" text-anchor="middle" fill="#2a2a2a" font-style="italic" letter-spacing="0.25">th3/+</text>
<text x="303.37" y="610.30" font-size="8" text-anchor="middle" fill="#2a2a2a" font-style="italic" letter-spacing="0.25">th3/+</text>
<text x="329.62" y="610.30" font-size="8" text-anchor="middle" fill="#2a2a2a" font-style="italic" letter-spacing="0.25">th3/+</text>
<text x="355.87" y="610.30" font-size="8" text-anchor="middle" fill="#2a2a2a" font-style="italic" letter-spacing="0.25">th3/+</text>
<text x="382.12" y="610.30" font-size="8" text-anchor="middle" fill="#2a2a2a" font-style="italic" letter-spacing="0.25">th3/+</text>
<text x="152.20" y="620.90" font-size="8" text-anchor="middle" fill="#2a2a2a" font-style="italic" >miR</text>
<text x="172.50" y="620.90" font-size="8" text-anchor="middle" fill="#2a2a2a" font-style="italic" letter-spacing="1.0">+/+</text>
<text x="198.32" y="620.90" font-size="8" text-anchor="middle" fill="#2a2a2a" font-style="italic" letter-spacing="0.15">–/–</text>
<text x="224.57" y="620.90" font-size="8" text-anchor="middle" fill="#2a2a2a" font-style="italic" letter-spacing="0.15">–/–</text>
<text x="251.25" y="620.90" font-size="8" text-anchor="middle" fill="#2a2a2a" font-style="italic" letter-spacing="1.0">+/+</text>
<text x="277.07" y="620.90" font-size="8" text-anchor="middle" fill="#2a2a2a" font-style="italic" letter-spacing="0.15">–/–</text>
<text x="303.32" y="620.90" font-size="8" text-anchor="middle" fill="#2a2a2a" font-style="italic" letter-spacing="0.15">–/–</text>
<text x="330.00" y="620.90" font-size="8" text-anchor="middle" fill="#2a2a2a" font-style="italic" letter-spacing="1.0">+/+</text>
<text x="355.82" y="620.90" font-size="8" text-anchor="middle" fill="#2a2a2a" font-style="italic" letter-spacing="0.15">–/–</text>
<text x="382.07" y="620.90" font-size="8" text-anchor="middle" fill="#2a2a2a" font-style="italic" letter-spacing="0.15">–/–</text>
<text x="152.20" y="631.50" font-size="8" text-anchor="middle" fill="#2a2a2a" font-style="italic" >Ulk1</text>
<text x="172.50" y="631.50" font-size="8" text-anchor="middle" fill="#2a2a2a" font-style="italic" letter-spacing="1.0">+/+</text>
<text x="198.75" y="631.50" font-size="8" text-anchor="middle" fill="#2a2a2a" font-style="italic" letter-spacing="1.0">+/+</text>
<text x="224.57" y="631.50" font-size="8" text-anchor="middle" fill="#2a2a2a" font-style="italic" letter-spacing="0.15">–/–</text>
<text x="251.25" y="631.50" font-size="8" text-anchor="middle" fill="#2a2a2a" font-style="italic" letter-spacing="1.0">+/+</text>
<text x="277.50" y="631.50" font-size="8" text-anchor="middle" fill="#2a2a2a" font-style="italic" letter-spacing="1.0">+/+</text>
<text x="303.32" y="631.50" font-size="8" text-anchor="middle" fill="#2a2a2a" font-style="italic" letter-spacing="0.15">–/–</text>
<text x="330.00" y="631.50" font-size="8" text-anchor="middle" fill="#2a2a2a" font-style="italic" letter-spacing="1.0">+/+</text>
<text x="356.25" y="631.50" font-size="8" text-anchor="middle" fill="#2a2a2a" font-style="italic" letter-spacing="1.0">+/+</text>
<text x="382.07" y="631.50" font-size="8" text-anchor="middle" fill="#2a2a2a" font-style="italic" letter-spacing="0.15">–/–</text>
<line x1="164.50" y1="635.60" x2="233.80" y2="635.60" stroke="#3e3e3e" stroke-width="1.3" />
<text x="199.15" y="645.00" font-size="8.2" text-anchor="middle" fill="#151515" >Ery.A</text>
<line x1="243.00" y1="635.60" x2="312.50" y2="635.60" stroke="#3e3e3e" stroke-width="1.3" />
<text x="277.75" y="645.00" font-size="8.2" text-anchor="middle" fill="#151515" >Ery.B</text>
<line x1="322.00" y1="635.60" x2="390.80" y2="635.60" stroke="#3e3e3e" stroke-width="1.3" />
<text x="356.40" y="645.00" font-size="8.2" text-anchor="middle" fill="#151515" >Ery.C</text>
<rect x="0.5" y="0.5" width="519" height="652" fill="none" stroke="#4a4a4a" stroke-width="1"/>
</svg>
</body></html>
